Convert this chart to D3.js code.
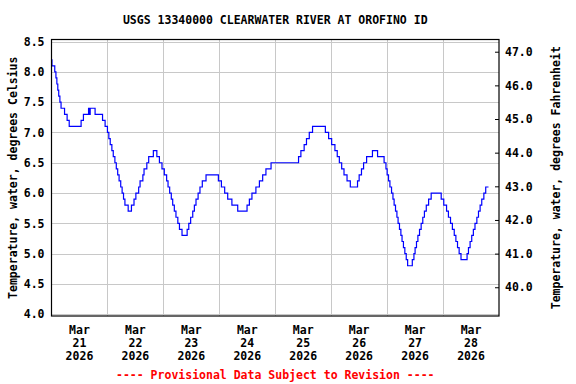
<!DOCTYPE html>
<html>
<head>
<meta charset="utf-8">
<script src="https://cdn.jsdelivr.net/npm/d3@7"></script>
<style>
  body { margin: 0; background: #fff; }
  text { font-family: "DejaVu Sans Mono", monospace; font-weight: bold; font-size: 11.5px; }
</style>
</head>
<body>
<script>
// hours after Mar 21 2026 00:00 where the reading changes, and the reading from then on (deg C)
var stepHours = [
  0, 0.2, 1.4, 1.9, 2.3, 2.7, 3.1, 3.6, 4.1, 5.6, 6.7, 7.6, 12.7, 13.7, 15.9, 16.2, 16.6, 18.7,
  21.9, 23.0, 24.0, 24.6, 25.2, 25.9, 26.5, 27.2, 27.8, 28.4, 29.0, 29.7, 30.3, 30.9, 31.5, 32.9,
  34.3, 35.4, 36.2, 37.4, 38.0, 39.2, 39.7, 40.9, 41.7, 43.7, 45.2, 46.3, 47.4, 48.4, 49.4, 50.0,
  50.7, 51.4, 52.0, 52.7, 53.4, 54.2, 54.9, 56.0, 58.2, 58.9, 59.7, 60.6, 61.3, 62.0, 62.9, 63.7,
  64.7, 66.3, 71.6, 72.9, 74.3, 75.6, 77.4, 79.9, 83.9, 84.9, 86.0, 87.7, 89.2, 90.6, 92.0, 94.2,
  106.0, 107.0, 108.4, 109.4, 110.6, 112.0, 117.5, 118.9, 120.2, 121.6, 122.6, 123.5, 124.5, 125.5,
  126.8, 128.2, 131.3, 132.0, 133.0, 133.9, 135.2, 137.7, 139.9, 142.7, 143.5, 144.0, 144.6, 145.2,
  145.9, 146.5, 147.0, 147.6, 148.2, 148.7, 149.3, 149.9, 150.4, 151.0, 151.6, 152.2, 152.8, 154.8,
  155.5, 156.0, 156.6, 157.2, 157.9, 158.6, 159.3, 160.0, 160.8, 161.8, 162.9, 167.2, 168.3, 169.5,
  170.3, 171.2, 172.0, 172.8, 173.5, 174.2, 174.9, 175.7, 178.3, 178.9, 179.6, 180.3, 181.0, 181.7,
  182.5, 183.2, 183.9, 184.6, 185.5, 186.3, 187.5
];
var stepTemps = [
  8.2, 8.1, 8.0, 7.9, 7.8, 7.7, 7.6, 7.5, 7.4, 7.3, 7.2, 7.1, 7.2, 7.3, 7.4, 7.3, 7.4, 7.3,
  7.2, 7.1, 7.0, 6.9, 6.8, 6.7, 6.6, 6.5, 6.4, 6.3, 6.2, 6.1, 6.0, 5.9, 5.8, 5.7,
  5.8, 5.9, 6.0, 6.1, 6.2, 6.3, 6.4, 6.5, 6.6, 6.7, 6.6, 6.5, 6.4, 6.3, 6.2, 6.1,
  6.0, 5.9, 5.8, 5.7, 5.6, 5.5, 5.4, 5.3, 5.4, 5.5, 5.6, 5.7, 5.8, 5.9, 6.0, 6.1,
  6.2, 6.3, 6.2, 6.1, 6.0, 5.9, 5.8, 5.7, 5.8, 5.9, 6.0, 6.1, 6.2, 6.3, 6.4, 6.5,
  6.6, 6.7, 6.8, 6.9, 7.0, 7.1, 7.0, 6.9, 6.8, 6.7, 6.6, 6.5, 6.4, 6.3,
  6.2, 6.1, 6.2, 6.3, 6.4, 6.5, 6.6, 6.7, 6.6, 6.5, 6.4, 6.3, 6.2, 6.1,
  6.0, 5.9, 5.8, 5.7, 5.6, 5.5, 5.4, 5.3, 5.2, 5.1, 5.0, 4.9, 4.8, 4.9,
  5.0, 5.1, 5.2, 5.3, 5.4, 5.5, 5.6, 5.7, 5.8, 5.9, 6.0, 5.9, 5.8, 5.7,
  5.6, 5.5, 5.4, 5.3, 5.2, 5.1, 5.0, 4.9, 5.0, 5.1, 5.2, 5.3, 5.4, 5.5,
  5.6, 5.7, 5.8, 5.9, 6.0, 6.1, 6.1
];
var celsiusTicks = [4.0, 4.5, 5.0, 5.5, 6.0, 6.5, 7.0, 7.5, 8.0, 8.5];
var fahrenheitTicks = [40, 41, 42, 43, 44, 45, 46, 47];
var dayLabels = ["21", "22", "23", "24", "25", "26", "27", "28"];

var width = 576, height = 384;
var plotL = 51.5, plotR = 499, plotT = 39.5, plotB = 316;
var start = new Date(2026, 2, 21);
var hour = 3600 * 1000;

var x = d3.scaleTime()
  .domain([start, new Date(2026, 2, 29)])
  .range([plotL, plotR]);

var y = d3.scaleLinear()
  .domain([3.97, 8.535])
  .range([plotB, plotT]);

// same pixel scale, in fahrenheit
var yF = d3.scaleLinear()
  .domain(y.domain().map(function(c) { return c * 1.8 + 32; }))
  .range([plotB, plotT]);

var svg = d3.select("body").append("svg")
  .attr("width", width)
  .attr("height", height);

var midnights = d3.range(1, 8).map(function(i) { return new Date(+start + i * 24 * hour); });
var noons = d3.range(0, 8).map(function(i) { return new Date(+start + (i * 24 + 12) * hour); });

// grid
svg.append("g")
  .attr("transform", "translate(" + plotL + ",0)")
  .call(d3.axisLeft(y).tickValues(celsiusTicks).tickSize(-(plotR - plotL)).tickFormat(""))
  .call(function(g) { g.select(".domain").remove(); })
  .selectAll("line").attr("stroke", "#c8c8c8").attr("shape-rendering", "crispEdges");

svg.append("g")
  .attr("transform", "translate(0," + plotB + ")")
  .call(d3.axisBottom(x).tickValues(midnights).tickSize(-(plotB - plotT)).tickFormat(""))
  .call(function(g) { g.select(".domain").remove(); })
  .selectAll("line").attr("stroke", "#c8c8c8").attr("shape-rendering", "crispEdges");

// the series
var points = stepHours.map(function(h, i) { return [new Date(+start + h * hour), stepTemps[i]]; });

var line = d3.line()
  .x(function(d) { return x(d[0]); })
  .y(function(d) { return y(d[1]); })
  .curve(d3.curveStepAfter);

svg.append("path")
  .datum(points)
  .attr("fill", "none")
  .attr("stroke", "#0000ff")
  .attr("stroke-width", 1.2)
  .attr("d", line);

// frame
svg.append("rect")
  .attr("x", plotL).attr("y", plotT)
  .attr("width", plotR - plotL).attr("height", plotB - plotT)
  .attr("fill", "none").attr("stroke", "#000").attr("stroke-width", 1.2);

// left labels
var yAxis = svg.append("g")
  .attr("transform", "translate(" + plotL + ",0)")
  .call(d3.axisLeft(y).tickValues(celsiusTicks).tickSize(0).tickPadding(7).tickFormat(d3.format(".1f")));
yAxis.select(".domain").remove();
yAxis.selectAll("text").attr("font-size", null).attr("font-family", null).attr("fill", "#000");

// right axis (fahrenheit), ticks point inward
var fAxis = svg.append("g")
  .attr("transform", "translate(" + plotR + ",0)")
  .call(d3.axisRight(yF).tickValues(fahrenheitTicks).tickSize(-4).tickPadding(6).tickFormat(d3.format(".1f")));
fAxis.select(".domain").remove();
fAxis.selectAll("line").attr("stroke", "#000");
fAxis.selectAll("text").attr("font-size", null).attr("font-family", null).attr("fill", "#000");

// date labels
var dl = svg.append("g").selectAll("text")
  .data(noons)
  .enter().append("text")
  .attr("text-anchor", "middle");
dl.append("tspan").attr("x", function(d) { return x(d); }).attr("y", 334).text("Mar");
dl.append("tspan").attr("x", function(d) { return x(d); }).attr("y", 347).text(function(d, i) { return dayLabels[i]; });
dl.append("tspan").attr("x", function(d) { return x(d); }).attr("y", 360).text("2026");

// titles
svg.append("text")
  .attr("x", (plotL + plotR) / 2).attr("y", 24)
  .attr("text-anchor", "middle")
  .text("USGS 13340000 CLEARWATER RIVER AT OROFINO ID");

svg.append("text")
  .attr("x", (plotL + plotR) / 2).attr("y", 379)
  .attr("text-anchor", "middle")
  .attr("fill", "#ff0000")
  .text("---- Provisional Data Subject to Revision ----");

svg.append("text")
  .attr("transform", "translate(17," + (plotT + plotB) / 2 + ") rotate(-90)")
  .attr("text-anchor", "middle")
  .text("Temperature, water, degrees Celsius");

svg.append("text")
  .attr("transform", "translate(560," + (plotT + plotB) / 2 + ") rotate(-90)")
  .attr("text-anchor", "middle")
  .text("Temperature, water, degrees Fahrenheit");
</script>
</body>
</html>
